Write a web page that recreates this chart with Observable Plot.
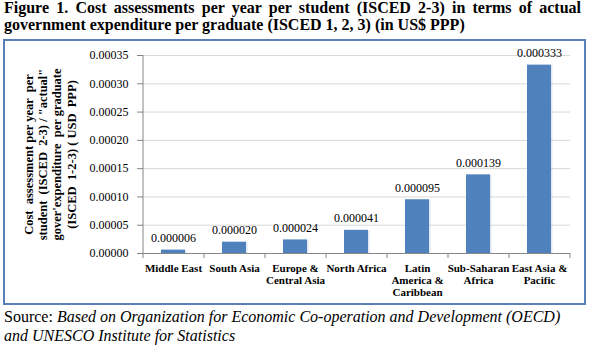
<!DOCTYPE html>
<html>
<head>
<meta charset="utf-8">
<script src="https://cdn.jsdelivr.net/npm/d3@7"></script>
<script src="https://cdn.jsdelivr.net/npm/@observablehq/plot@0.6"></script>
<style>
  html, body { margin: 0; padding: 0; background: #fff; }
  body { width: 589px; height: 349px; position: relative; overflow: hidden; font-family: "Liberation Serif", "Times New Roman", serif; color: #000; }
  #title { position: absolute; left: 4px; top: -1px; width: 577px; font-weight: bold; font-size: 16px; line-height: 17px; text-align: justify; text-align-last: left; }
  #box { position: absolute; left: 3px; top: 39px; width: 579px; height: 262px; border: 2.5px solid #5b80b9; }
  #chart { position: absolute; left: 0; top: 38px; }
  #source { position: absolute; left: 4px; top: 307px; width: 584px; font-size: 16px; line-height: 19px; }
  #source i { font-style: italic; }
  #chart text { font-family: "Liberation Serif", "Times New Roman", serif; }
</style>
</head>
<body>
<div id="title">Figure 1. Cost assessments per year per student (ISCED 2-3) in terms of actual government expenditure per graduate (ISCED 1, 2, 3) (in US$ PPP)</div>
<div id="box"></div>
<div id="chart"></div>
<div id="source">Source: <i>Based on Organization for Economic Co-operation and Development (OECD) and UNESCO Institute for Statistics</i></div>
<script>
const regions = ["Middle East", "South Asia", "Europe & Central Asia", "North Africa", "Latin America & Caribbean", "Sub-Saharan Africa", "East Asia & Pacific"];
const regionLabels = ["Middle East", "South Asia", "Europe &\nCentral Asia", "North Africa", "Latin\nAmerica &\nCaribbean", "Sub-Saharan\nAfrica", "East Asia &\nPacific"];
const costRatio = [0.000006, 0.000020, 0.000024, 0.000041, 0.000095, 0.000139, 0.000333];
const valueLabels = ["0.000006", "0.000020", "0.000024", "0.000041", "0.000095", "0.000139", "0.000333"];
const yTicks = [0, 0.00005, 0.0001, 0.00015, 0.0002, 0.00025, 0.0003, 0.00035];
const yTitle = "Cost  assessment per year  per\nstudent  (ISCED  2-3) / \"actual\"\ngover'expenditure  per graduate\n(ISCED  1-2-3) ( USD  PPP)";

const data = regions.map((r, i) => ({region: r, label: regionLabels[i], value: costRatio[i], text: valueLabels[i]}));

const W = 589, H = 266, mL = 143, mR = 19, mT = 17, mB = 51;
const yMax = yTicks[yTicks.length - 1];
const step = (W - mL - mR) / regions.length;
const pxToY = yMax / (H - mT - mB);
const tickLen = 5;
const serif = "'Liberation Serif', 'Times New Roman', serif";

const chart = Plot.plot({
  width: W, height: H,
  marginLeft: mL, marginRight: mR, marginTop: mT, marginBottom: mB,
  style: {background: "none", fontFamily: serif, fontSize: "12px", color: "#000"},
  x: {domain: regions, paddingInner: 0.6, paddingOuter: 0.3, axis: null, label: null},
  y: {domain: [0, yMax], axis: null, label: null},
  marks: [
    Plot.gridY(yTicks.filter(d => d > 0), {stroke: "#d9d9d9", strokeOpacity: 1}),
    Plot.barY(data, {x: "region", y: "value", fill: "#4f81bd", dx: 1.5, dy: 0.5, fillOpacity: 0.18}),
    Plot.barY(data, {x: "region", y: "value", fill: "#4f81bd"}),
    Plot.ruleY([0], {stroke: "#868686"}),
    Plot.ruleX([regions[0]], {dx: -step / 2, y1: 0, y2: yMax, stroke: "#868686"}),
    Plot.ruleX(regions, {dx: -step / 2, y1: 0, y2: -tickLen * pxToY, stroke: "#868686"}),
    Plot.ruleX([regions[regions.length - 1]], {dx: step / 2, y1: 0, y2: -tickLen * pxToY, stroke: "#868686"}),
    Plot.axisY(yTicks, {tickSize: 6, tickPadding: 9, tickFormat: d => d.toFixed(5), stroke: "#868686", fill: "#000", fontSize: 12, fontFamily: serif, label: null}),
    Plot.text(data, {x: "region", y: "value", text: "text", dy: -12, fontSize: 12, fontFamily: serif, fill: "#000"}),
    Plot.text(data, {x: "region", y: 0, text: "label", dy: 10, lineAnchor: "top", lineHeight: 1.1, fontSize: 11, fontFamily: serif, fontWeight: "bold", fill: "#000"}),
    Plot.text([yTitle], {frameAnchor: "left", dx: -94, rotate: -90, text: d => d, lineHeight: 1.15, fontSize: 12.5, fontFamily: serif, fontWeight: "bold", fill: "#000", textAnchor: "middle"})
  ]
});
document.getElementById("chart").appendChild(chart);
</script>
</body>
</html>
